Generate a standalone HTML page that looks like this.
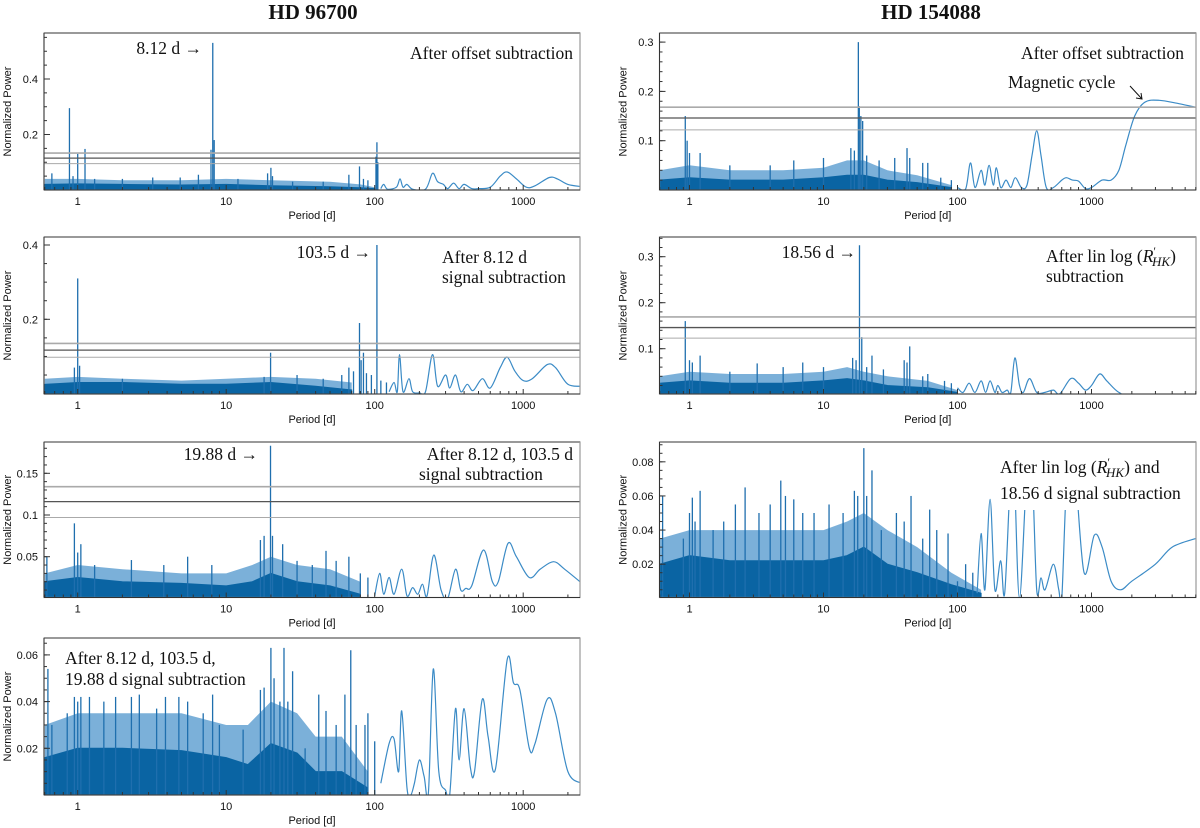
<!DOCTYPE html>
<html><head><meta charset="utf-8">
<style>
html,body{margin:0;padding:0;background:#fff;}
svg{display:block;}
.tk{font-family:"Liberation Sans",sans-serif;font-size:11px;fill:#111;}
.ann{font-family:"Liberation Serif",serif;font-size:17.5px;fill:#111;}
.ttl{font-family:"Liberation Serif",serif;font-size:21px;font-weight:bold;fill:#111;}
</style></head>
<body>
<svg id="fig" width="1200" height="828" viewBox="0 0 1200 828" xmlns="http://www.w3.org/2000/svg">
<text class="ttl" x="313" y="19" text-anchor="middle">HD 96700</text>
<text class="ttl" x="931" y="19" text-anchor="middle">HD 154088</text>
</svg>
<script>
// ---------- DATA ----------
// Panel L1: HD 96700 after offset subtraction
const l1EnvP=[0.6,1,2,5,10,20,50,80,100];
const l1EnvV=[0.02,0.022,0.02,0.018,0.02,0.015,0.012,0.008,0.005];
const l1TopV=[0.04,0.04,0.035,0.035,0.04,0.035,0.03,0.02,0.01];
const l1SpikeP=[0.67,0.88,0.93,1.0,1.12,1.3,2.0,3.2,4.9,6.5,7.9,8.12,8.3,12,19,20,20.5,28,45,67,79,84,90,102,103.5,105];
const l1SpikeV=[0.06,0.295,0.05,0.13,0.148,0.04,0.04,0.045,0.045,0.055,0.145,0.53,0.18,0.04,0.06,0.08,0.05,0.03,0.03,0.055,0.085,0.04,0.035,0.12,0.172,0.1];
const l1CurveP=[110,115,122,140,148,155,165,180,220,245,265,290,310,340,370,400,450,500,600,700,780,900,1050,1200,1500,1700,2000,2490];
const l1CurveV=[0.005,0.02,0.003,0.01,0.04,0.01,0.02,0.003,0.003,0.06,0.03,0.02,0.005,0.025,0.005,0.02,0.005,0.005,0.01,0.05,0.065,0.04,0.01,0.015,0.045,0.04,0.02,0.012];
const l1Thr=[0.133,0.115,0.095];
const l1Ticks=[0.2,0.4];
// Panel L2: after 8.12 d
const l2EnvP=[0.6,1,2,5,10,20,40,70];
const l2EnvV=[0.025,0.03,0.03,0.025,0.025,0.03,0.02,0.01];
const l2TopV=[0.04,0.045,0.04,0.035,0.04,0.045,0.04,0.03];
const l2SpikeP=[0.95,1.0,1.03,2,18,19.9,30,45,60,67,72,79,81,84,88,95,103.5,110,120];
const l2SpikeV=[0.07,0.31,0.075,0.04,0.045,0.11,0.05,0.04,0.05,0.07,0.06,0.19,0.09,0.11,0.055,0.05,0.4,0.035,0.03];
const l2CurveP=[125,135,142,147,155,170,180,200,220,245,265,300,320,350,380,420,460,530,600,700,780,880,1000,1150,1450,1650,2000,2490];
const l2CurveV=[0.005,0.03,0.005,0.105,0.005,0.04,0.005,0.002,0.005,0.105,0.02,0.05,0.015,0.05,0.005,0.025,0.008,0.04,0.015,0.07,0.098,0.06,0.035,0.04,0.078,0.07,0.025,0.02];
const l2Thr=[0.135,0.117,0.098];
const l2Ticks=[0.2,0.4];
// Panel L3: after 8.12 d, 103.5 d
const l3EnvP=[0.6,1,2,5,10,15,20,30,50,80];
const l3EnvV=[0.02,0.025,0.02,0.018,0.015,0.02,0.03,0.02,0.015,0.005];
const l3TopV=[0.03,0.04,0.035,0.03,0.03,0.04,0.05,0.04,0.035,0.02];
const l3SpikeP=[0.62,0.95,1.0,1.05,1.3,2.3,3.8,5.5,8,17,18,19.88,20.5,24,30,38,47,55,67,80,90];
const l3SpikeV=[0.05,0.09,0.055,0.065,0.04,0.046,0.04,0.05,0.04,0.07,0.075,0.183,0.075,0.065,0.045,0.04,0.057,0.045,0.05,0.03,0.025];
const l3CurveP=[100,108,115,125,135,152,165,180,195,210,225,250,280,310,350,380,410,450,540,620,680,790,900,1100,1300,1600,1900,2490];
const l3CurveV=[0.003,0.03,0.005,0.025,0.005,0.035,0.003,0.013,0.005,0.017,0.003,0.052,0.01,0.0,0.035,0.01,0.012,0.015,0.058,0.02,0.02,0.066,0.05,0.025,0.035,0.044,0.035,0.018];
const l3Thr=[0.134,0.116,0.097];
const l3Ticks=[0.05,0.1,0.15];
// Panel L4: after 8.12 d, 103.5 d, 19.88 d
const l4EnvP=[0.6,1,2,5,10,14,20,30,40,60,90];
const l4EnvV=[0.016,0.02,0.02,0.019,0.016,0.013,0.022,0.018,0.01,0.01,0.003];
const l4TopV=[0.03,0.035,0.035,0.035,0.03,0.03,0.04,0.035,0.025,0.025,0.01];
const l4SpikeP=[0.63,0.67,0.85,0.95,1.0,1.05,1.2,1.5,1.8,2.3,2.6,3.4,3.9,4.8,5.5,7,8.1,9,13,17,18,20,21,23,24.5,26,28,34,42,47,55,63,69,75,86,90,100];
const l4SpikeV=[0.054,0.03,0.035,0.042,0.04,0.042,0.042,0.04,0.042,0.042,0.043,0.037,0.042,0.042,0.04,0.035,0.043,0.03,0.028,0.045,0.046,0.063,0.05,0.04,0.063,0.04,0.053,0.02,0.043,0.036,0.03,0.043,0.062,0.03,0.03,0.035,0.023];
const l4CurveP=[110,125,135,145,152,165,175,185,200,215,230,248,270,300,320,350,370,400,440,470,530,580,650,780,860,950,1100,1200,1450,1650,2000,2490];
const l4CurveV=[0.005,0.022,0.024,0.01,0.036,0.003,0.0,0.005,0.015,0.008,0.001,0.054,0.01,0.002,0.0,0.037,0.015,0.037,0.012,0.01,0.041,0.025,0.011,0.058,0.048,0.045,0.02,0.022,0.041,0.035,0.01,0.005];
const l4Thr=[];
const l4Ticks=[0.02,0.04,0.06];
// Panel R1: HD 154088 after offset subtraction
const r1EnvP=[0.6,1,2,5,10,15,20,30,50,90];
const r1EnvV=[0.02,0.025,0.02,0.02,0.025,0.03,0.03,0.02,0.015,0.005];
const r1TopV=[0.04,0.05,0.04,0.04,0.045,0.06,0.06,0.04,0.03,0.01];
const r1SpikeP=[0.93,0.96,1.0,1.2,2,4,6,10,16,17,18.2,18.5,19,19.6,21,26,34,42,44,55,60,75,90];
const r1SpikeV=[0.15,0.1,0.075,0.075,0.05,0.05,0.06,0.065,0.085,0.08,0.3,0.17,0.15,0.14,0.07,0.06,0.065,0.085,0.065,0.055,0.055,0.025,0.02];
const r1CurveP=[100,115,125,135,150,160,172,185,195,210,230,250,270,300,330,360,390,420,460,520,600,650,720,800,900,1000,1200,1400,1600,1800,2100,2500,3200,4500,5970];
const r1CurveV=[0.005,0.002,0.055,0.005,0.04,0.01,0.05,0.01,0.045,0.005,0.02,0.005,0.025,0.005,0.01,0.07,0.12,0.07,0.005,0.005,0.02,0.025,0.02,0.018,0.003,0.005,0.02,0.02,0.04,0.09,0.15,0.178,0.182,0.175,0.168];
const r1Thr=[0.168,0.146,0.122];
const r1Ticks=[0.1,0.2,0.3];
// Panel R2: after lin log(R'HK)
const r2EnvP=[0.6,1,2,5,10,15,20,30,60,100];
const r2EnvV=[0.025,0.03,0.025,0.025,0.03,0.035,0.03,0.02,0.015,0.005];
const r2TopV=[0.04,0.05,0.045,0.045,0.05,0.06,0.05,0.04,0.03,0.01];
const r2SpikeP=[0.93,1.0,1.05,1.2,2,3.2,5,7,10,16.5,17.5,18.56,19.3,21,23,28,40,42,44,55,60,80,90];
const r2SpikeV=[0.16,0.075,0.07,0.085,0.05,0.068,0.06,0.07,0.06,0.08,0.075,0.325,0.125,0.06,0.085,0.055,0.075,0.07,0.105,0.04,0.045,0.03,0.025];
const r2CurveP=[100,110,122,135,150,162,175,190,200,215,235,250,268,290,310,345,390,450,520,580,700,800,900,1000,1150,1300,1600,2000,5970];
const r2CurveV=[0.015,0.005,0.025,0.005,0.03,0.005,0.03,0.005,0.02,0.005,0.01,0.005,0.08,0.02,0.005,0.035,0.005,0.005,0.01,0.002,0.035,0.025,0.01,0.02,0.045,0.03,0.005,0.0,0.0];
const r2Thr=[0.169,0.146,0.123];
const r2Ticks=[0.1,0.2,0.3];
// Panel R3: after lin log(R'HK) and 18.56 d
const r3EnvP=[0.6,1,2,5,10,15,20,30,50,90,150];
const r3EnvV=[0.02,0.025,0.022,0.022,0.022,0.025,0.03,0.02,0.015,0.008,0.003];
const r3TopV=[0.035,0.04,0.04,0.04,0.04,0.045,0.05,0.04,0.03,0.015,0.005];
const r3SpikeP=[0.63,0.9,1.0,1.05,1.1,1.2,1.5,1.8,2.2,2.6,3.3,4,4.8,5.2,6,7,8.5,11,14,17,18,20,21,23,27,35,40,45,55,62,70,85,100,115,130];
const r3SpikeV=[0.06,0.035,0.05,0.059,0.045,0.063,0.04,0.045,0.055,0.065,0.05,0.055,0.069,0.06,0.058,0.05,0.05,0.055,0.05,0.063,0.06,0.088,0.06,0.075,0.04,0.05,0.045,0.06,0.035,0.052,0.04,0.038,0.01,0.02,0.015];
const r3CurveP=[140,150,160,175,190,210,225,250,265,290,330,360,390,420,450,520,570,600,660,750,880,1050,1200,1400,1650,2000,3000,4000,5970];
const r3CurveV=[0.003,0.038,0.005,0.058,0.005,0.022,0.003,0.075,0.075,0.0,0.075,0.075,0.005,0.012,0.005,0.02,0.005,0.0,0.075,0.075,0.015,0.037,0.03,0.01,0.005,0.01,0.02,0.03,0.035];
const r3Thr=[];
const r3Ticks=[0.02,0.04,0.06,0.08];

// ---------- DRAWING ----------
const NS="http://www.w3.org/2000/svg";
const fig=document.getElementById('fig');
function el(tag,attrs,parent){const e=document.createElementNS(NS,tag);for(const k in attrs)e.setAttribute(k,attrs[k]);(parent||fig).appendChild(e);return e;}
function makeX(xOne,dec){return p=>xOne+dec*Math.log10(p);}
function makeY(zero,k){return v=>zero-v*k;}
function smoothPath(pts){
  let d='M'+pts[0][0].toFixed(1)+','+pts[0][1].toFixed(1);
  for(let i=0;i<pts.length-1;i++){
    const p0=pts[i-1]||pts[i],p1=pts[i],p2=pts[i+1],p3=pts[i+2]||p2;
    const c1x=p1[0]+(p2[0]-p0[0])/6,c1y=p1[1]+(p2[1]-p0[1])/6;
    const c2x=p2[0]-(p3[0]-p1[0])/6,c2y=p2[1]-(p3[1]-p1[1])/6;
    d+=' C'+c1x.toFixed(1)+','+c1y.toFixed(1)+' '+c2x.toFixed(1)+','+c2y.toFixed(1)+' '+p2[0].toFixed(1)+','+p2[1].toFixed(1);
  }
  return d;
}
let clipN=0;
function panel(cfg){
  const X=makeX(cfg.xOne,cfg.dec), Y=makeY(cfg.zero,cfg.k);
  const g=el('g',{});
  
  
  const id='clip'+(clipN++);
  const cp=el('clipPath',{id:id},g);
  el('rect',{x:cfg.x0,y:cfg.top,width:cfg.x1-cfg.x0,height:cfg.bottom-cfg.top},cp);
  const marks=el('g',{'clip-path':'url(#'+id+')'},g);
  const n=cfg.envP.length;
  // upper noise band
  let dt='M'+X(cfg.envP[0]).toFixed(1)+','+Y(0).toFixed(1);
  cfg.envP.forEach((p,i)=>{dt+=' L'+X(p).toFixed(1)+','+Y(cfg.topV[i]).toFixed(1);});
  dt+=' L'+X(cfg.envP[n-1]).toFixed(1)+','+Y(0).toFixed(1)+' Z';
  const top=el('path',{d:dt,fill:'#4f95cc','fill-opacity':'0.75'},marks);
  
  
  // envelope fill
  let d='M'+X(cfg.envP[0]).toFixed(1)+','+Y(0).toFixed(1);
  cfg.envP.forEach((p,i)=>{d+=' L'+X(p).toFixed(1)+','+Y(cfg.envV[i]).toFixed(1);});
  d+=' L'+X(cfg.envP[n-1]).toFixed(1)+','+Y(0).toFixed(1)+' Z';
  const env=el('path',{d:d,fill:'#0a64a3',stroke:'#0a64a3','stroke-width':'1'},marks);
  
  
  // spikes
  cfg.spikeP.forEach((p,i)=>{
    const x=X(p);
    const s=el('line',{x1:x,x2:x,y1:Y(0),y2:Y(cfg.spikeV[i]),stroke:'#1f6fae','stroke-width':'1.3'},marks);
    
    
  });
  // curve
  const pts=cfg.curveP.map((p,i)=>[X(p),Y(cfg.curveV[i])]);
  const cl=el('path',{d:smoothPath(pts),fill:'none',stroke:'#3b8bc6','stroke-width':'1.2','stroke-linejoin':'round'},marks);
  
  
  // thresholds
  const tw=[1.6,1.3,1], tc=['#aaa','#555','#aaa'];
  cfg.thr.forEach((v,i)=>{
    const t=el('line',{x1:cfg.x0,x2:cfg.x1,y1:Y(v),y2:Y(v),stroke:tc[i],'stroke-width':tw[i]},g);
    
    
  });
  // frame
  const fr=el('rect',{x:cfg.x0,y:cfg.top,width:cfg.x1-cfg.x0,height:cfg.bottom-cfg.top,fill:'none',stroke:'#999','stroke-width':'1.2'},g);
  
  
  el('line',{x1:cfg.x0,x2:cfg.x1,y1:cfg.top,y2:cfg.top,stroke:'#999','stroke-width':'2'},g);
  el('line',{x1:cfg.x0,x2:cfg.x0,y1:cfg.top,y2:cfg.bottom,stroke:'#333','stroke-width':'1'},g);
  el('line',{x1:cfg.x0,x2:cfg.x1,y1:cfg.bottom,y2:cfg.bottom,stroke:'#333','stroke-width':'1'},g);
  // x ticks
  for(let e=-1;e<=4;e++){for(let m=1;m<=9;m++){const p=m*Math.pow(10,e);const x=X(p);
    if(x<cfg.x0||x>cfg.x1)continue;
    el('line',{x1:x,x2:x,y1:cfg.bottom,y2:cfg.bottom-(m===1?5:3),stroke:'#333','stroke-width':'1'},g);
    if(m===1){const t=el('text',{class:'tk',x:x,y:cfg.bottom+15,'text-anchor':'middle'},g);t.textContent=String(p);
      }
  }}
  // y ticks
  for(let v=cfg.minor;v<=cfg.maxV;v+=cfg.minor){const y=Y(v);if(y<cfg.top)break;
    el('line',{x1:cfg.x0,x2:cfg.x0+3,y1:y,y2:y,stroke:'#333','stroke-width':'1'},g);}
  cfg.ticks.forEach(v=>{const y=Y(v);
    el('line',{x1:cfg.x0,x2:cfg.x0+6,y1:y,y2:y,stroke:'#333','stroke-width':'1'},g);
    const t=el('text',{class:'tk',x:cfg.x0-6,y:y+4,'text-anchor':'end'},g);t.textContent=String(v);
    });
  const xl=el('text',{class:'tk',x:(cfg.x0+cfg.x1)/2,y:cfg.bottom+29,'text-anchor':'middle','font-size':'12'},g);
  xl.textContent='Period [d]';
  
  const yx=cfg.x0-33, yc=(cfg.top+cfg.bottom)/2;
  const yl=el('text',{class:'tk',x:yx,y:yc,'text-anchor':'middle',transform:'rotate(-90 '+yx+' '+yc+')','font-size':'12'},g);
  yl.textContent='Normalized Power';
  
  return g;
}
const L={x0:44,x1:580,xOne:77.7,dec:148.5}, R={x0:659.5,x1:1196,xOne:689.5,dec:134};
panel(Object.assign({name:'panel-hd96700-offset',top:33,bottom:190,zero:190,k:277.5,envP:l1EnvP,envV:l1EnvV,topV:l1TopV,spikeP:l1SpikeP,spikeV:l1SpikeV,curveP:l1CurveP,curveV:l1CurveV,thr:l1Thr,ticks:l1Ticks,minor:0.05,maxV:0.56},L));
panel(Object.assign({name:'panel-hd96700-after-8d',top:237,bottom:394,zero:393.6,k:371.5,envP:l2EnvP,envV:l2EnvV,topV:l2TopV,spikeP:l2SpikeP,spikeV:l2SpikeV,curveP:l2CurveP,curveV:l2CurveV,thr:l2Thr,ticks:l2Ticks,minor:0.05,maxV:0.42},L));
panel(Object.assign({name:'panel-hd96700-after-103d',top:442,bottom:597.5,zero:598.4,k:834,envP:l3EnvP,envV:l3EnvV,topV:l3TopV,spikeP:l3SpikeP,spikeV:l3SpikeV,curveP:l3CurveP,curveV:l3CurveV,thr:l3Thr,ticks:l3Ticks,minor:0.01,maxV:0.19},L));
panel(Object.assign({name:'panel-hd96700-after-19d',top:638,bottom:795,zero:795,k:2335,envP:l4EnvP,envV:l4EnvV,topV:l4TopV,spikeP:l4SpikeP,spikeV:l4SpikeV,curveP:l4CurveP,curveV:l4CurveV,thr:l4Thr,ticks:l4Ticks,minor:0.005,maxV:0.067},L));
panel(Object.assign({name:'panel-hd154088-offset',top:33,bottom:190,zero:190,k:493,envP:r1EnvP,envV:r1EnvV,topV:r1TopV,spikeP:r1SpikeP,spikeV:r1SpikeV,curveP:r1CurveP,curveV:r1CurveV,thr:r1Thr,ticks:r1Ticks,minor:0.02,maxV:0.32},R));
panel(Object.assign({name:'panel-hd154088-linlog',top:237,bottom:394,zero:394.7,k:460,envP:r2EnvP,envV:r2EnvV,topV:r2TopV,spikeP:r2SpikeP,spikeV:r2SpikeV,curveP:r2CurveP,curveV:r2CurveV,thr:r2Thr,ticks:r2Ticks,minor:0.02,maxV:0.34},R));
panel(Object.assign({name:'panel-hd154088-after-18d',top:442,bottom:597.5,zero:598.3,k:1706,envP:r3EnvP,envV:r3EnvV,topV:r3TopV,spikeP:r3SpikeP,spikeV:r3SpikeV,curveP:r3CurveP,curveV:r3CurveV,thr:r3Thr,ticks:r3Ticks,minor:0.005,maxV:0.092},R));

// annotations
function ann(txt,x,y,anchor,name,bg){
  if(bg){const r=el('rect',{x:bg[0],y:bg[1],width:bg[2],height:bg[3],fill:'#fff'});
    }
  const t=el('text',{class:'ann',x:x,y:y,'text-anchor':anchor||'start'});
  t.innerHTML=txt;
  
  
}
ann('8.12 d →',202,54,'end','peak-label-8d');
ann('After offset subtraction',573,59,'end','l1-caption');
ann('103.5 d →',371,258,'end','peak-label-103d');
ann('After 8.12 d',442,263,'start','l2-caption-1');
ann('signal subtraction',442,283,'start','l2-caption-2');
ann('19.88 d →',258,460,'end','peak-label-19d');
ann('After 8.12 d, 103.5 d',573,460,'end','l3-caption-1');
ann('signal subtraction',419,480,'start','l3-caption-2');
ann('After 8.12 d, 103.5 d,',65,664,'start','l4-caption-1');
ann('19.88 d signal subtraction',65,685,'start','l4-caption-2');
ann('After offset subtraction',1184,59,'end','r1-caption');
ann('Magnetic cycle',1008,88,'start','magnetic-cycle-label');
ann('18.56 d →',856,258,'end','peak-label-18d');
ann('After lin log (<tspan font-style="italic">R</tspan><tspan dy="-7" font-size="12">′</tspan><tspan dy="11" font-size="13" font-style="italic" dx="-4">HK</tspan><tspan dy="-4">)</tspan>',1046,262,'start','r2-caption-1');
ann('subtraction',1046,282,'start','r2-caption-2');
ann('After lin log (<tspan font-style="italic">R</tspan><tspan dy="-7" font-size="12">′</tspan><tspan dy="11" font-size="13" font-style="italic" dx="-4">HK</tspan><tspan dy="-4">) and</tspan>',1000,473,'start','r3-caption-1',[996,450,196,60]);
ann('18.56 d signal subtraction',1000,499,'start','r3-caption-2');
const ar=el('path',{d:'M1130,86 L1142,99 M1136,98 L1142,99 L1141,93',fill:'none',stroke:'#111','stroke-width':'1'});


</script>
</body></html>
